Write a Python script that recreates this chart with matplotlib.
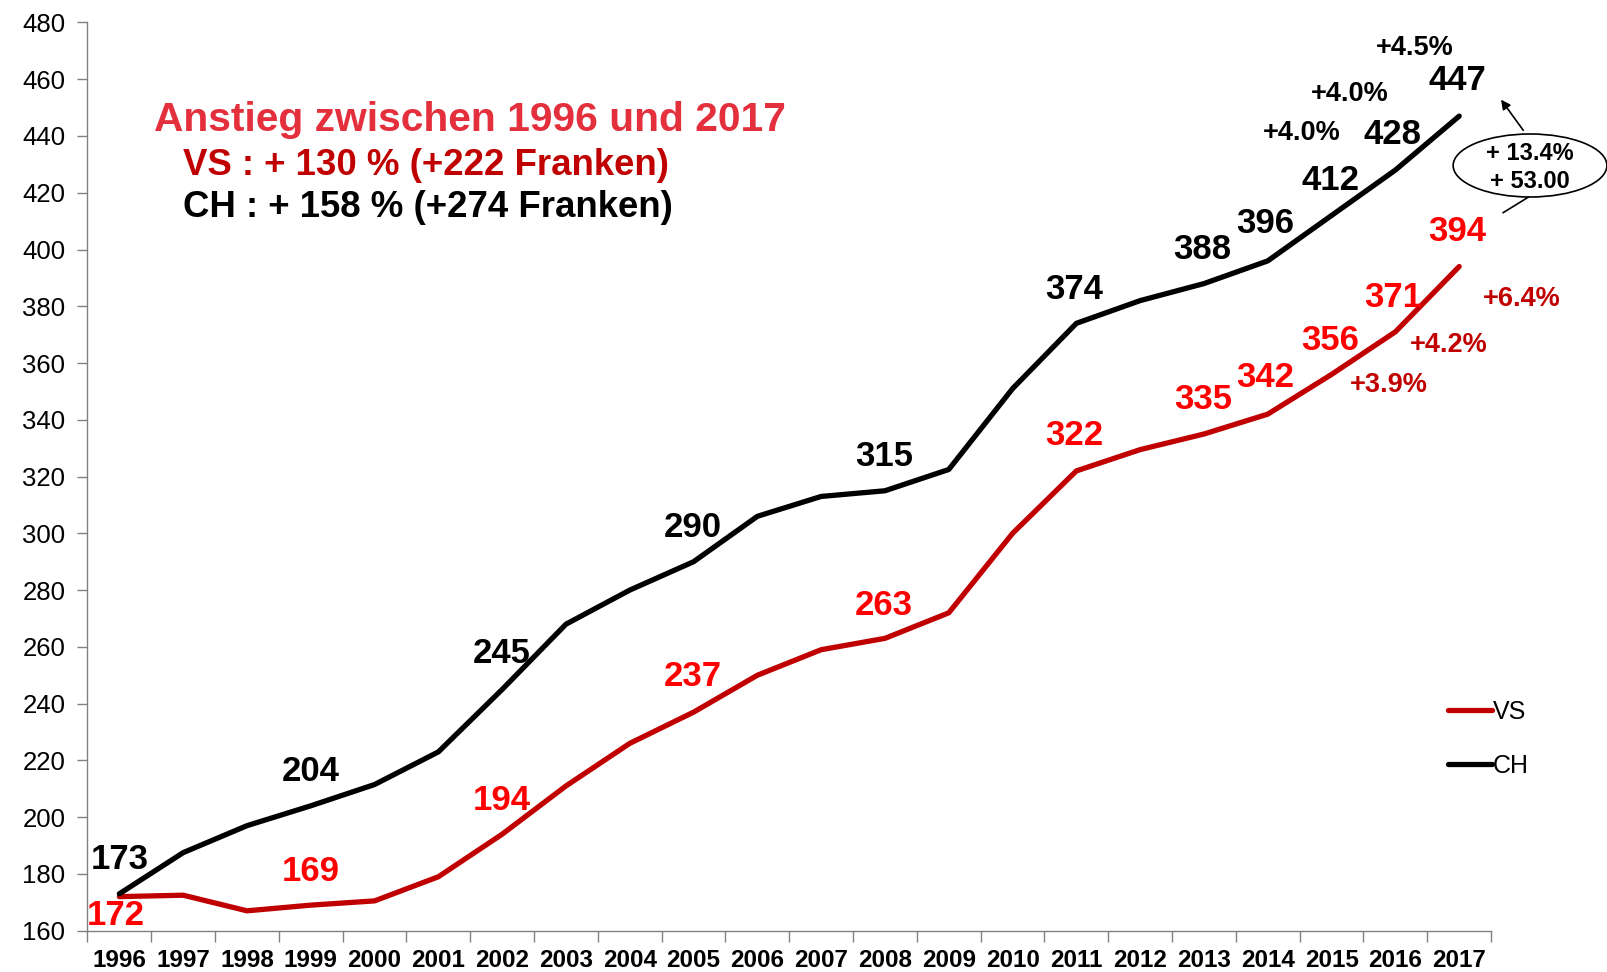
import matplotlib
matplotlib.use("Agg")
import matplotlib.pyplot as plt
from matplotlib.patches import Ellipse

plt.rcParams['font.family'] = ['Liberation Sans', 'DejaVu Sans']

years = [str(y) for y in range(1996, 2018)]
vs_vals = [172, 172.5, 167, 169, 170.5, 179, 194, 211, 226, 237, 250,
           259, 263, 272, 300, 322, 329.5, 335, 342, 356, 371, 394]
ch_vals = [173, 187.5, 197, 204, 211.5, 223, 245, 268, 280, 290, 306,
           313, 315, 322.5, 351, 374, 382, 388, 396, 412, 428, 447]

# labelled points: (text, x, y)
ch_labels = [('173', 0.0, 185), ('204', 3.0, 216), ('245', 6.0, 257.5),
             ('290', 8.98, 302), ('315', 11.98, 327), ('374', 14.97, 386),
             ('388', 16.98, 400), ('396', 17.96, 409), ('412', 18.98, 424.3),
             ('428', 19.96, 440.6), ('447', 20.97, 459.7)]
vs_labels = [('172', -0.05, 165.2), ('169', 3.0, 181), ('194', 6.0, 205.7),
             ('237', 8.98, 249.5), ('263', 11.98, 274.7), ('322', 14.97, 334.4),
             ('335', 16.98, 347), ('342', 17.96, 355), ('356', 18.98, 368),
             ('371', 19.96, 383.1), ('394', 20.97, 406.3)]
ch_pct = [('+4.0%', 18.54, 441), ('+4.0%', 19.29, 454.7), ('+4.5%', 20.31, 470.9)]
vs_pct = [('+3.9%', 19.89, 352.4), ('+4.2%', 20.84, 366.5), ('+6.4%', 21.98, 382.4)]

VS_LINE = '#C00000'
VS_TEXT = '#FF0000'
TITLE_RED = '#E3303C'

fig = plt.figure(figsize=(16.08, 9.72), dpi=100)
ax = fig.add_axes([0.0544, 0.0425, 0.8729, 0.9344])

x = list(range(len(years)))
ax.plot(x, vs_vals, color=VS_LINE, lw=3.8, label='VS', solid_capstyle='round', zorder=3)
ax.plot(x, ch_vals, color='black', lw=3.8, label='CH', solid_capstyle='round', zorder=3)

ax.set_xlim(-0.5, len(years) - 0.5)
ax.set_ylim(160, 480)
ax.set_yticks(range(160, 481, 20))
ax.set_xticks(x)
ax.set_xticklabels(years, fontsize=17.5, fontweight='bold')
ax.set_xticks([i - 0.5 for i in range(len(years) + 1)], minor=True)
ax.tick_params(axis='x', which='major', length=0, pad=13)
ax.tick_params(axis='x', which='minor', length=8, width=1, color='#808080', direction='out')
ax.tick_params(axis='y', length=7, width=1, color='#808080', pad=9, labelsize=18.5)
for s in ['top', 'right']:
    ax.spines[s].set_visible(False)
for s in ['left', 'bottom']:
    ax.spines[s].set_color('#808080')
    ax.spines[s].set_linewidth(1)

for t, tx, ty in ch_labels:
    ax.text(tx, ty, t, ha='center', va='center', fontsize=25, fontweight='bold', color='black')
for t, tx, ty in vs_labels:
    ax.text(tx, ty, t, ha='center', va='center', fontsize=25, fontweight='bold', color=VS_TEXT)
for t, tx, ty in ch_pct:
    ax.text(tx, ty, t, ha='center', va='center', fontsize=19.5, fontweight='bold', color='black')
for t, tx, ty in vs_pct:
    ax.text(tx, ty, t, ha='center', va='center', fontsize=19.5, fontweight='bold', color=VS_LINE,
            clip_on=False)

ax.text(0.54, 445.5, 'Anstieg zwischen 1996 und 2017', ha='left', va='center',
        fontsize=29.3, fontweight='bold', color=TITLE_RED)
ax.text(0.99, 429.6, 'VS : + 130 % (+222 Franken)', ha='left', va='center',
        fontsize=26.4, fontweight='bold', color=VS_LINE)
ax.text(0.99, 414.8, 'CH : + 158 % (+274 Franken)', ha='left', va='center',
        fontsize=26.4, fontweight='bold', color='black')

# callout
ell = Ellipse((22.11, 429.6), 2.41, 22.2, fill=False, edgecolor='black', lw=1.2, clip_on=False)
ax.add_patch(ell)
ax.text(22.11, 433.7, '+ 13.4%', ha='center', va='center', fontsize=17, fontweight='bold', clip_on=False)
ax.text(22.11, 423.9, '+ 53.00', ha='center', va='center', fontsize=17, fontweight='bold', clip_on=False)
ax.annotate('', xy=(21.63, 453.6), xytext=(22.03, 441.2),
            arrowprops=dict(arrowstyle='-|>', color='black', lw=1.2, mutation_scale=14),
            annotation_clip=False)
ax.plot([22.08, 21.69], [418.4, 413.0], color='black', lw=1.2, clip_on=False)

leg = ax.legend(loc='upper left', bbox_to_anchor=(0.9694, 0.254), frameon=False,
                fontsize=18, handlelength=1.75, handletextpad=0.05, labelspacing=1.2,
                borderpad=0, borderaxespad=0)

fig.savefig('out.png', dpi=100)
